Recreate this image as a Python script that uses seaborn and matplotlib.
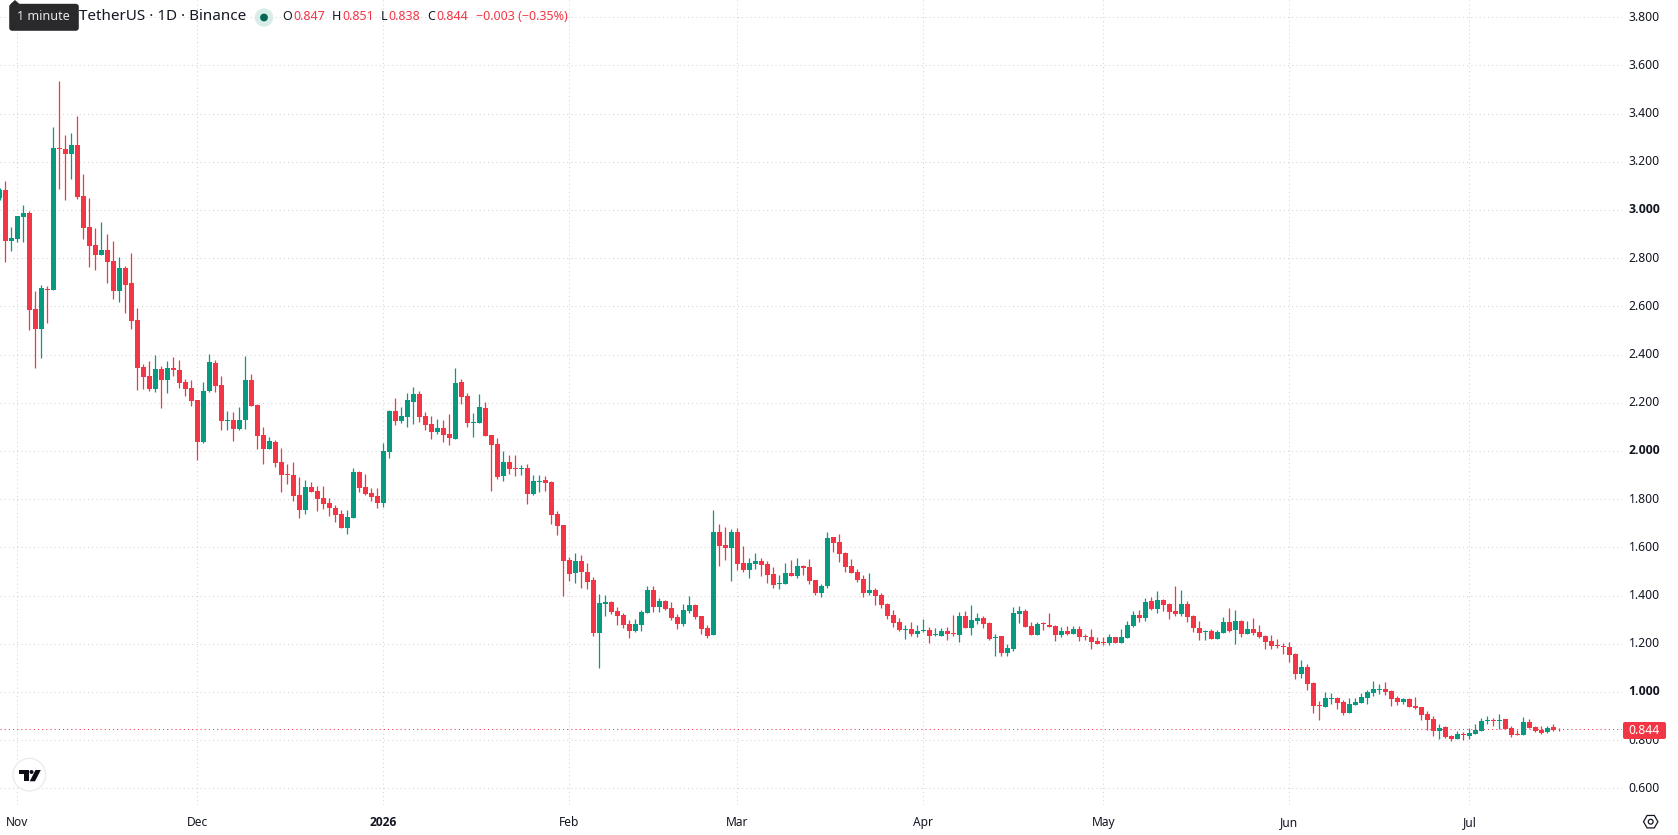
import numpy as np
import pandas as pd
import matplotlib
matplotlib.use("Agg")
import matplotlib.pyplot as plt
from matplotlib.patches import Circle, FancyBboxPatch, Polygon, RegularPolygon
import seaborn as sns

# Daily OHLC, 29 Oct 2025 - 16 Jul 2026
opens = [
    3.049, 3.083, 2.871,
    2.879, 2.971, 2.987, 2.589, 2.506, 2.672, 2.668, 3.257, 3.253, 3.232, 3.269, 3.058, 2.929, 2.854, 2.813,
    2.834, 2.788, 2.664, 2.759, 2.697, 2.543, 2.348, 2.311, 2.257, 2.340, 2.294, 2.344, 2.336, 2.286, 2.261,
    2.211, 2.038, 2.249, 2.365, 2.274, 2.124, 2.128, 2.091, 2.128, 2.294, 2.191, 2.066, 2.008, 2.037, 1.954, 1.904,
    1.900, 1.817, 1.755, 1.850, 1.834, 1.805, 1.784, 1.763, 1.738, 1.680, 1.722, 1.913, 1.850, 1.825, 1.813,
    1.784, 1.996, 2.166, 2.124, 2.141, 2.203, 2.236, 2.145, 2.112, 2.078, 2.095, 2.070, 2.049, 2.286, 2.228, 2.116,
    2.116, 2.178, 2.066, 2.029, 1.896, 1.954, 1.929, 1.925, 1.929, 1.821, 1.871, 1.879, 1.871, 1.738, 1.693,
    1.547, 1.493, 1.543, 1.497, 1.464, 1.244, 1.365, 1.373, 1.336, 1.319, 1.282, 1.253, 1.278, 1.327,
    1.423, 1.352, 1.377, 1.348, 1.311, 1.282, 1.336, 1.361, 1.315, 1.265, 1.236, 1.664, 1.610, 1.597,
    1.664, 1.535, 1.506, 1.531, 1.543, 1.531, 1.489, 1.448, 1.448, 1.493, 1.481, 1.522, 1.518, 1.464, 1.410, 1.440,
    1.643, 1.622, 1.576, 1.522, 1.498, 1.469, 1.410, 1.423, 1.402, 1.365, 1.319, 1.290, 1.257, 1.261, 1.240,
    1.253, 1.257, 1.236, 1.232, 1.253, 1.244, 1.236, 1.315, 1.265, 1.294, 1.307, 1.286, 1.224, 1.232, 1.161,
    1.178, 1.323, 1.336, 1.273, 1.236, 1.284, 1.278, 1.273, 1.236, 1.253, 1.240, 1.261, 1.232, 1.228, 1.211,
    1.207, 1.203, 1.228, 1.203, 1.224, 1.273, 1.319, 1.307, 1.377, 1.344, 1.381, 1.365, 1.336, 1.323, 1.365, 1.315,
    1.265, 1.249, 1.253, 1.220, 1.244, 1.290, 1.257, 1.294, 1.240, 1.261, 1.249, 1.232, 1.211, 1.193, 1.190,
    1.186, 1.157, 1.074, 1.103, 1.037, 0.944, 0.937, 0.971, 0.975, 0.958, 0.913, 0.946, 0.954, 0.975, 0.996,
    1.008, 1.012, 1.004, 0.975, 0.958, 0.971, 0.942, 0.937, 0.908, 0.888, 0.838, 0.854, 0.817, 0.805, 0.827,
    0.817, 0.825, 0.838, 0.879, 0.883, 0.879, 0.888, 0.850, 0.825, 0.821, 0.875, 0.854, 0.842, 0.834, 0.854, 0.847,
]
closes = [
    3.083, 2.871, 2.883,
    2.975, 2.987, 2.585, 2.506, 2.676, 2.668, 3.257, 3.253, 3.232, 3.269, 3.054, 2.925, 2.850, 2.813, 2.834,
    2.784, 2.664, 2.759, 2.688, 2.539, 2.344, 2.307, 2.257, 2.340, 2.294, 2.344, 2.336, 2.282, 2.257, 2.207,
    2.038, 2.249, 2.369, 2.269, 2.124, 2.128, 2.091, 2.128, 2.294, 2.186, 2.062, 2.008, 2.041, 1.950, 1.900, 1.900,
    1.813, 1.755, 1.850, 1.830, 1.800, 1.780, 1.763, 1.734, 1.680, 1.726, 1.913, 1.846, 1.821, 1.809, 1.784,
    2.000, 2.166, 2.124, 2.145, 2.211, 2.236, 2.141, 2.108, 2.078, 2.095, 2.066, 2.054, 2.282, 2.224, 2.116, 2.120,
    2.182, 2.062, 2.025, 1.892, 1.954, 1.925, 1.925, 1.929, 1.821, 1.875, 1.875, 1.867, 1.734, 1.688, 1.543,
    1.489, 1.543, 1.497, 1.456, 1.244, 1.369, 1.373, 1.332, 1.315, 1.278, 1.253, 1.282, 1.332, 1.423,
    1.352, 1.377, 1.344, 1.307, 1.282, 1.340, 1.361, 1.311, 1.261, 1.232, 1.664, 1.605, 1.597, 1.664,
    1.531, 1.506, 1.535, 1.543, 1.527, 1.485, 1.444, 1.452, 1.493, 1.481, 1.522, 1.514, 1.460, 1.410, 1.440, 1.639,
    1.618, 1.572, 1.518, 1.493, 1.464, 1.410, 1.423, 1.398, 1.361, 1.315, 1.286, 1.257, 1.261, 1.240, 1.253,
    1.257, 1.232, 1.240, 1.253, 1.240, 1.240, 1.315, 1.265, 1.298, 1.307, 1.282, 1.220, 1.228, 1.161, 1.182,
    1.327, 1.336, 1.269, 1.236, 1.282, 1.280, 1.269, 1.236, 1.253, 1.240, 1.261, 1.228, 1.228, 1.207, 1.199,
    1.203, 1.228, 1.203, 1.228, 1.278, 1.319, 1.307, 1.373, 1.344, 1.381, 1.361, 1.332, 1.323, 1.365, 1.311, 1.265,
    1.244, 1.253, 1.220, 1.249, 1.290, 1.253, 1.294, 1.240, 1.261, 1.244, 1.228, 1.207, 1.190, 1.189, 1.186,
    1.153, 1.074, 1.103, 1.033, 0.942, 0.942, 0.975, 0.975, 0.954, 0.913, 0.950, 0.958, 0.979, 1.000, 1.012,
    1.012, 1.000, 0.971, 0.958, 0.971, 0.937, 0.933, 0.904, 0.883, 0.838, 0.850, 0.813, 0.805, 0.825, 0.823,
    0.830, 0.842, 0.879, 0.883, 0.879, 0.883, 0.846, 0.821, 0.821, 0.875, 0.850, 0.838, 0.830, 0.850, 0.842, 0.844,
]
highs = [
    3.090, 3.120, 2.929,
    2.975, 3.020, 2.995, 2.664, 2.688, 2.684, 3.344, 3.535, 3.311, 3.319, 3.390, 3.149, 3.049, 2.925, 2.950,
    2.900, 2.871, 2.805, 2.767, 2.821, 2.593, 2.361, 2.373, 2.398, 2.352, 2.373, 2.390, 2.377, 2.298, 2.294,
    2.211, 2.286, 2.402, 2.377, 2.311, 2.166, 2.161, 2.182, 2.394, 2.319, 2.195, 2.099, 2.058, 2.045, 2.012, 1.946,
    1.954, 1.892, 1.879, 1.871, 1.854, 1.854, 1.805, 1.776, 1.755, 1.755, 1.929, 1.917, 1.904, 1.846, 1.846,
    2.033, 2.170, 2.220, 2.182, 2.240, 2.265, 2.249, 2.161, 2.145, 2.132, 2.128, 2.153, 2.344, 2.298, 2.240, 2.157,
    2.236, 2.203, 2.066, 2.054, 2.000, 1.983, 1.983, 1.942, 1.946, 1.900, 1.900, 1.896, 1.875, 1.751, 1.693,
    1.560, 1.576, 1.568, 1.535, 1.477, 1.406, 1.402, 1.377, 1.352, 1.327, 1.298, 1.303, 1.340, 1.440,
    1.440, 1.390, 1.381, 1.373, 1.323, 1.365, 1.398, 1.365, 1.315, 1.278, 1.755, 1.697, 1.684, 1.676,
    1.680, 1.605, 1.556, 1.576, 1.556, 1.543, 1.518, 1.485, 1.535, 1.547, 1.556, 1.527, 1.552, 1.464, 1.448, 1.664,
    1.643, 1.655, 1.581, 1.552, 1.510, 1.485, 1.493, 1.431, 1.410, 1.369, 1.340, 1.307, 1.278, 1.290, 1.278,
    1.303, 1.269, 1.265, 1.265, 1.269, 1.319, 1.332, 1.336, 1.361, 1.327, 1.315, 1.290, 1.240, 1.232, 1.199,
    1.352, 1.356, 1.344, 1.290, 1.290, 1.290, 1.327, 1.278, 1.269, 1.273, 1.273, 1.273, 1.240, 1.261, 1.228,
    1.228, 1.240, 1.228, 1.261, 1.294, 1.336, 1.340, 1.390, 1.394, 1.419, 1.385, 1.369, 1.439, 1.423, 1.377, 1.319,
    1.294, 1.257, 1.261, 1.257, 1.311, 1.348, 1.340, 1.298, 1.294, 1.307, 1.278, 1.236, 1.236, 1.219, 1.203,
    1.207, 1.161, 1.132, 1.116, 1.041, 0.962, 1.000, 0.995, 0.979, 0.966, 0.975, 0.975, 0.996, 1.008, 1.045,
    1.033, 1.041, 1.008, 0.983, 0.975, 0.975, 0.979, 0.937, 0.921, 0.900, 0.867, 0.859, 0.821, 0.838, 0.834,
    0.852, 0.867, 0.892, 0.900, 0.892, 0.908, 0.888, 0.859, 0.842, 0.896, 0.888, 0.859, 0.859, 0.859, 0.867, 0.851,
]
lows = [
    3.040, 2.784, 2.830,
    2.867, 2.867, 2.502, 2.344, 2.386, 2.531, 2.668, 3.087, 3.041, 3.128, 3.045, 2.879, 2.763, 2.751, 2.813,
    2.697, 2.630, 2.618, 2.572, 2.506, 2.253, 2.257, 2.249, 2.244, 2.178, 2.240, 2.311, 2.261, 2.228, 2.186,
    1.962, 2.033, 2.244, 2.244, 2.087, 2.087, 2.041, 2.087, 2.091, 2.186, 2.008, 1.946, 2.008, 1.933, 1.830, 1.863,
    1.792, 1.722, 1.738, 1.830, 1.751, 1.759, 1.730, 1.705, 1.680, 1.655, 1.722, 1.830, 1.817, 1.792, 1.763,
    1.767, 1.971, 2.108, 2.116, 2.099, 2.112, 2.120, 2.087, 2.049, 2.070, 2.037, 2.025, 2.049, 2.195, 2.099, 2.058,
    2.116, 2.062, 1.834, 1.883, 1.875, 1.904, 1.896, 1.900, 1.780, 1.817, 1.830, 1.834, 1.697, 1.651, 1.398,
    1.460, 1.452, 1.431, 1.427, 1.232, 1.099, 1.315, 1.323, 1.278, 1.265, 1.224, 1.249, 1.253, 1.327,
    1.332, 1.332, 1.340, 1.298, 1.261, 1.274, 1.327, 1.303, 1.240, 1.224, 1.236, 1.522, 1.547, 1.460,
    1.506, 1.498, 1.473, 1.510, 1.481, 1.452, 1.431, 1.427, 1.448, 1.481, 1.473, 1.485, 1.448, 1.402, 1.394, 1.431,
    1.581, 1.539, 1.498, 1.493, 1.456, 1.394, 1.402, 1.361, 1.348, 1.303, 1.269, 1.253, 1.220, 1.232, 1.228,
    1.249, 1.203, 1.232, 1.232, 1.215, 1.232, 1.207, 1.265, 1.236, 1.282, 1.265, 1.215, 1.149, 1.149, 1.149,
    1.170, 1.286, 1.269, 1.236, 1.236, 1.257, 1.269, 1.211, 1.228, 1.236, 1.240, 1.211, 1.215, 1.178, 1.199,
    1.195, 1.195, 1.203, 1.203, 1.224, 1.269, 1.290, 1.294, 1.340, 1.327, 1.336, 1.303, 1.315, 1.315, 1.290, 1.249,
    1.215, 1.215, 1.220, 1.220, 1.244, 1.249, 1.199, 1.228, 1.240, 1.236, 1.224, 1.178, 1.178, 1.182, 1.157,
    1.124, 1.054, 1.058, 1.008, 0.912, 0.883, 0.937, 0.950, 0.929, 0.904, 0.913, 0.946, 0.954, 0.950, 0.983,
    0.991, 0.987, 0.942, 0.946, 0.950, 0.937, 0.929, 0.883, 0.842, 0.817, 0.805, 0.809, 0.796, 0.805, 0.800,
    0.805, 0.825, 0.838, 0.867, 0.859, 0.846, 0.846, 0.813, 0.821, 0.821, 0.850, 0.834, 0.825, 0.830, 0.838, 0.838,
]

first_day = "2025-10-29"
last_price = 0.844
price_ticks = [0.6, 0.8, 1.0, 1.2, 1.4, 1.6, 1.8, 2.0, 2.2, 2.4, 2.6, 2.8, 3.0, 3.2, 3.4, 3.6, 3.8]
month_starts = ["2025-11-01", "2025-12-01", "2026-01-01", "2026-02-01", "2026-03-01",
                "2026-04-01", "2026-05-01", "2026-06-01", "2026-07-01"]
month_labels = ["Nov", "Dec", "2026", "Feb", "Mar", "Apr", "May", "Jun", "Jul"]

UP = "#089981"
DOWN = "#F23645"
INK = "#131722"
GRID = "#d4d4d4"
W, H = 1678, 835
AX_RIGHT, AX_BOTTOM = 1622, 805


def px(size):
    """Font size in points for a size in pixels at 100 dpi."""
    return size * 0.72


sns.set_theme(style="white")
plt.rcParams["font.family"] = ["Noto Sans", "DejaVu Sans"]

dates = pd.date_range(first_day, periods=len(closes), freq="D")
origin = pd.Timestamp(month_starts[0])
df = pd.DataFrame({"day": (dates - origin).days, "open": opens, "high": highs, "low": lows, "close": closes})
df["body"] = (df["close"] - df["open"]).abs()
df["base"] = df[["open", "close"]].min(axis=1)
df["rising"] = df["close"] >= df["open"]

fig = plt.figure(figsize=(W / 100, H / 100), dpi=100, facecolor="white")
ax = fig.add_axes([0, 1 - AX_BOTTOM / H, AX_RIGHT / W, AX_BOTTOM / H], facecolor="white")

# Candle bodies through seaborn's bar plot, one call per direction
for rising, colour in ((True, UP), (False, DOWN)):
    part = df[df["rising"] == rising]
    sns.barplot(data=part, x="day", y="body", bottom=part["base"].to_numpy(), orient="x",
                native_scale=True, color=colour, saturation=1, width=0.83, linewidth=0,
                errorbar=None, zorder=3, ax=ax)

# Wicks
ax.vlines(df["day"], df["low"], df["high"], colors=np.where(df["rising"], UP, DOWN), linewidth=0.9, zorder=2)

# Last price line
ax.axhline(last_price, color=DOWN, linewidth=0.75, linestyle=(0, (1, 3)), zorder=1.5)

ax.set_xlim(-17.5 / 6, (AX_RIGHT - 17.5) / 6)
ax.set_ylim(0.6 + (788.3 - AX_BOTTOM) / 241, 0.6 + 788.3 / 241)
ax.set_xlabel("")
ax.set_ylabel("")

month_days = [(pd.Timestamp(m) - origin).days for m in month_starts]
ax.set_xticks(month_days, month_labels)
ax.yaxis.tick_right()
ax.set_yticks(price_ticks, [f"{p:.3f}" for p in price_ticks])
ax.tick_params(axis="x", length=0, pad=8, labelsize=px(12), labelcolor=INK)
ax.tick_params(axis="y", length=0, pad=27.4, labelsize=px(12.2), labelcolor=INK)
for lab in ax.get_yticklabels():
    lab.set_ha("right")
    lab.set_va("center")
    if lab.get_text() in ("1.000", "2.000", "3.000"):
        lab.set_fontfamily(["Open Sans", "DejaVu Sans"])
        lab.set_fontweight("bold")
for lab in ax.get_xticklabels():
    if lab.get_text() == "2026":
        lab.set_fontfamily(["Open Sans", "DejaVu Sans"])
        lab.set_fontweight("bold")

ax.grid(True, color=GRID, linewidth=0.75, linestyle=(0, (1, 3)), zorder=0)
ax.set_axisbelow(True)
sns.despine(ax=ax, left=True, right=True, top=True, bottom=True)

# Overlay in pixel coordinates for the header, badges and price tag
ui = fig.add_axes([0, 0, 1, 1], facecolor="none")
ui.set_xlim(0, W)
ui.set_ylim(H, 0)
ui.axis("off")

# Header line
ui.text(78.8, 17, "TetherUS · 1D · Binance", fontsize=px(15.2), color=INK, va="center", ha="left")
ui.add_patch(Circle((264, 17.5), 9.2, facecolor="#d8ece8", edgecolor="none"))
ui.add_patch(Circle((264, 17.5), 3.9, facecolor="#056656", edgecolor="none"))
for x_label, x_value, label, value in ((282.7, 293, "O", "0.847"), (331.5, 342.3, "H", "0.851"),
                                       (380.8, 388.5, "L", "0.838"), (427, 436.5, "C", "0.844")):
    ui.text(x_label, 17, label, fontsize=px(12.5), color=INK, va="center", ha="left")
    ui.text(x_value, 17, value, fontsize=px(12.5), color=DOWN, va="center", ha="left")
ui.text(475.8, 17, "−0.003 (−0.35%)", fontsize=px(12.5), color=DOWN, va="center", ha="left")

# Tooltip over the start of the header
ui.add_patch(FancyBboxPatch((11.2, 5.8), 65.6, 23, boxstyle="round,pad=2,rounding_size=3",
                            facecolor="#2a2a2c", edgecolor="none", zorder=5))
ui.add_patch(Polygon([(10, 4.5), (15, 0), (20, 4.5)], closed=True, facecolor="#2a2a2c", edgecolor="none", zorder=5))
ui.text(43.8, 16.5, "1 minute", fontsize=px(12.6), color="#e8e8e8", va="center", ha="center", zorder=6)

# Round logo badge
ui.add_patch(Circle((29.3, 774.7), 16.3, facecolor="white", edgecolor="#ececec", linewidth=1, zorder=4))
ui.add_patch(Polygon([(19, 770), (28.5, 770), (28.5, 781.3), (24, 781.3), (24, 774), (19, 774)],
                     closed=True, facecolor="#0c0e14", edgecolor="none", zorder=5))
ui.add_patch(Circle((31.5, 772), 2, facecolor="#0c0e14", edgecolor="none", zorder=5))
ui.add_patch(Polygon([(35.5, 770), (40.8, 770), (35, 781.3), (29.7, 781.3)],
                     closed=True, facecolor="#0c0e14", edgecolor="none", zorder=5))

# Last price tag
ui.add_patch(FancyBboxPatch((1624, 723), 41, 15, boxstyle="round,pad=1,rounding_size=2",
                            facecolor=DOWN, edgecolor="none", zorder=5))
ui.text(1660, 730.5, f"{last_price:.3f}", fontsize=px(12.2), color="white", va="center", ha="right", zorder=6)

# Settings icon
ui.add_patch(RegularPolygon((1650.7, 821.7), 6, radius=7.2, orientation=np.pi / 6,
                            facecolor="none", edgecolor=INK, linewidth=0.9))
ui.add_patch(Circle((1650.7, 821.7), 2.4, facecolor="none", edgecolor=INK, linewidth=0.9))

fig.savefig("out.png", dpi=100, facecolor="white")
